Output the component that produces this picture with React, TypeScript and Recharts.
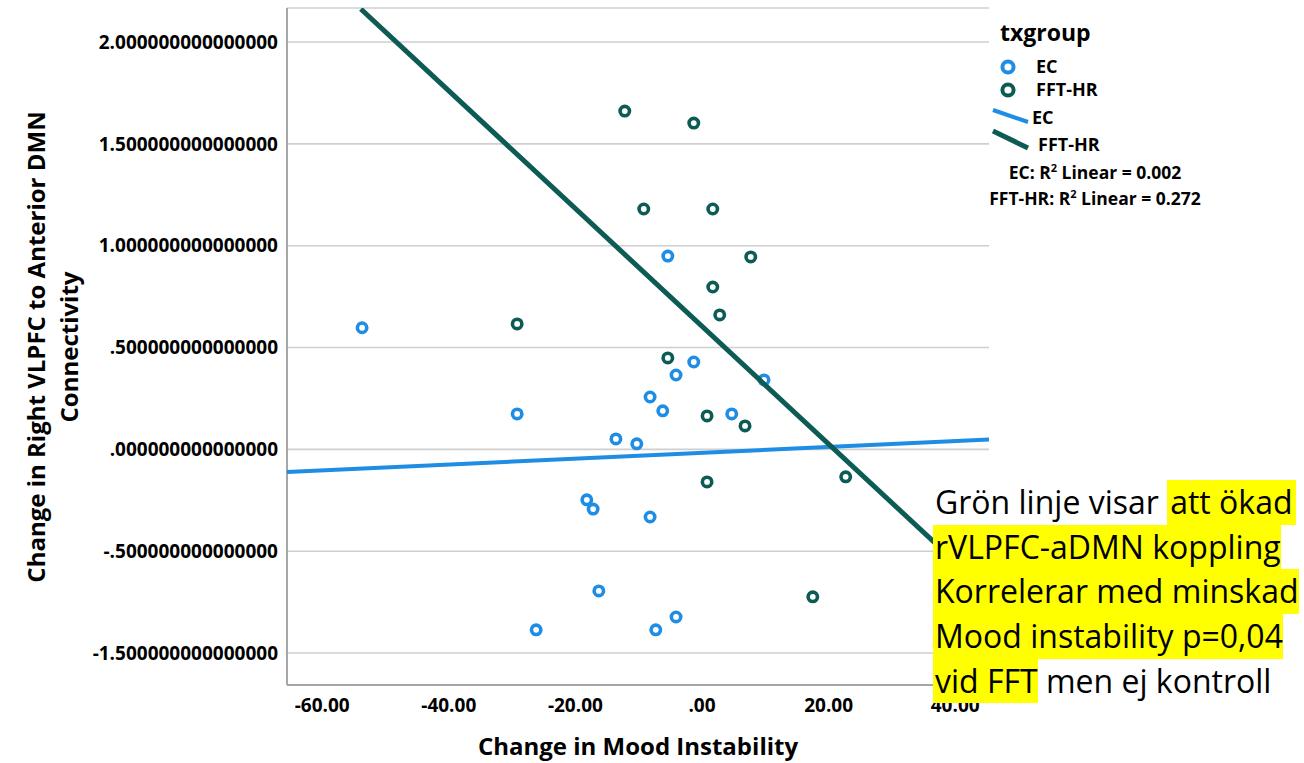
import { ScatterChart, Scatter, XAxis, YAxis, CartesianGrid } from 'recharts';

const EC_COLOR = '#1f8de3';
const FFT_COLOR = '#0d5b55';
const FONT = '"Open Sans", Arial, sans-serif';

// EC group: change in mood instability (x) vs change in connectivity (y)
const ecX = [-53.7, -29.2, -5.4, -13.6, -10.3, -1.3, -4.1, -8.2, -6.2, 4.7, -18.2, -17.2, -8.2, -16.3, -26.2, -7.3, -4.1, 9.8];
const ecY = [0.597, 0.174, 0.949, 0.051, 0.027, 0.429, 0.365, 0.257, 0.189, 0.174, -0.248, -0.293, -0.332, -0.695, -0.886, -0.886, -0.823, 0.341];

// FFT-HR group
const fftX = [-12.2, -1.3, -9.2, 1.7, 7.7, 1.7, 2.8, -29.2, -5.4, 0.8, 6.8, 0.8, 22.7, 17.5];
const fftY = [1.661, 1.602, 1.18, 1.18, 0.945, 0.797, 0.66, 0.616, 0.449, 0.164, 0.115, -0.16, -0.135, -0.724];

// linear fit lines, end points
const ecFitX = [-65.56, 45.34];
const ecFitY = [-0.111, 0.048];
const fftFitX = [-53.9, 45.34];
const fftFitY = [2.162, -0.706];

const xTicks = [-60, -40, -20, 0, 20, 40];
const xTickLabels = ['-60.00', '-40.00', '-20.00', '.00', '20.00', '40.00'];
const yTicks = [-1, -0.5, 0, 0.5, 1, 1.5, 2];
const yTickLabels = [
  '-1.500000000000000',
  '-.500000000000000',
  '.000000000000000',
  '.500000000000000',
  '1.000000000000000',
  '1.500000000000000',
  '2.000000000000000',
];

const zip = (xs: number[], ys: number[]) => xs.map((x, i) => ({ x, y: ys[i] }));

const ecData = zip(ecX, ecY);
const fftData = zip(fftX, fftY);
const ecFit = zip(ecFitX, ecFitY);
const fftFit = zip(fftFitX, fftFitY);

const ring = (color: string) => (p: any) => (
  <circle cx={p.cx} cy={p.cy} r={4.7} fill="#fff" stroke={color} strokeWidth={3.6} />
);

const noDot = () => <g />;

const tickStyle = { fill: '#000', fontSize: 19, fontWeight: 700, fontFamily: FONT };

function YTitle() {
  return (
    <g fontFamily={FONT} fontWeight={700} fontSize={24} fill="#000">
      <text transform="translate(45, 347) rotate(-90)" textAnchor="middle">
        Change in Right VLPFC to Anterior DMN
      </text>
      <text transform="translate(78, 347) rotate(-90)" textAnchor="middle">
        Connectivity
      </text>
    </g>
  );
}

function Legend() {
  const label = { fontSize: 18, fontWeight: 700 };
  return (
    <div style={{ position: 'absolute', left: 0, top: 0, fontFamily: FONT, color: '#000' }}>
      <div style={{ position: 'absolute', left: 1000, top: 16, fontSize: 23, fontWeight: 700, whiteSpace: 'nowrap' }}>txgroup</div>
      <svg width={1304} height={220} style={{ position: 'absolute', left: 0, top: 0 }}>
        <circle cx={1008} cy={67} r={5.6} fill="#fff" stroke={EC_COLOR} strokeWidth={4} />
        <circle cx={1008} cy={90} r={5.6} fill="#fff" stroke={FFT_COLOR} strokeWidth={4} />
        <line x1={993} y1={110} x2={1028} y2={122} stroke={EC_COLOR} strokeWidth={4} />
        <line x1={993} y1={131} x2={1028} y2={148} stroke={FFT_COLOR} strokeWidth={5} />
      </svg>
      <div style={{ ...label, position: 'absolute', left: 1036, top: 54, whiteSpace: 'nowrap' }}>EC</div>
      <div style={{ ...label, position: 'absolute', left: 1036, top: 77, whiteSpace: 'nowrap' }}>FFT-HR</div>
      <div style={{ ...label, position: 'absolute', left: 1032, top: 105, whiteSpace: 'nowrap' }}>EC</div>
      <div style={{ ...label, position: 'absolute', left: 1038, top: 132, whiteSpace: 'nowrap' }}>FFT-HR</div>
      <div style={{ position: 'absolute', left: 945, width: 300, top: 160, textAlign: 'center', fontSize: 17.5, fontWeight: 700, whiteSpace: 'nowrap' }}>
        EC: R<sup style={{ fontSize: 11 }}>2</sup> Linear = 0.002
      </div>
      <div style={{ position: 'absolute', left: 945, width: 300, top: 186, textAlign: 'center', fontSize: 17.5, fontWeight: 700, whiteSpace: 'nowrap' }}>
        FFT-HR: R<sup style={{ fontSize: 11 }}>2</sup> Linear = 0.272
      </div>
    </div>
  );
}

const hl = { background: '#ffff00' };

function Note() {
  const row = { height: 44.7, lineHeight: '44.7px', whiteSpace: 'nowrap' as const };
  return (
    <div
      style={{
        position: 'absolute',
        left: 933,
        top: 480,
        width: 371,
        background: '#fff',
        fontFamily: FONT,
        fontSize: 32,
        color: '#000',
      }}
    >
      <div style={row}>
        <span style={{ paddingLeft: 2 }}>Grön linje visar </span>
        <span style={{ ...hl, display: 'inline-block', paddingLeft: 3, paddingRight: 4 }}>att ökad</span>
      </div>
      <div style={row}>
        <span style={{ ...hl, display: 'inline-block', paddingLeft: 2 }}>rVLPFC-aDMN koppling</span>
      </div>
      <div style={row}>
        <span style={{ ...hl, display: 'inline-block', paddingLeft: 2 }}>Korrelerar med minskad</span>
      </div>
      <div style={row}>
        <span style={{ ...hl, display: 'inline-block', paddingLeft: 2 }}>Mood instability p=0,04</span>
      </div>
      <div style={row}>
        <span style={{ ...hl, display: 'inline-block', paddingLeft: 2 }}>vid FFT</span>
        <span> men ej kontroll</span>
      </div>
    </div>
  );
}

export default function App() {
  return (
    <div style={{ position: 'relative', width: 1304, height: 763, background: '#fff', overflow: 'hidden' }}>
      <style>{'body{margin:0;background:#fff}'}</style>
      <ScatterChart width={1304} height={763} margin={{ top: 8, right: 315, bottom: 0, left: 0 }}>
        <CartesianGrid vertical={false} stroke="#cfcfcf" strokeWidth={1.6} />
        <XAxis
          type="number"
          dataKey="x"
          domain={[-65.56, 45.34]}
          ticks={xTicks}
          tickFormatter={(v: number) => xTickLabels[xTicks.indexOf(v)] ?? ''}
          allowDataOverflow
          height={78}
          axisLine={{ stroke: '#a6a6a6', strokeWidth: 2 }}
          tickLine={false}
          tickMargin={8}
          tick={tickStyle}
          label={{
            value: 'Change in Mood Instability',
            position: 'insideBottom',
            offset: 8,
            style: { fill: '#000', fontSize: 24, fontWeight: 700, fontFamily: FONT },
          }}
        />
        <YAxis
          type="number"
          dataKey="y"
          domain={[-1.157, 2.167]}
          ticks={yTicks}
          tickFormatter={(v: number) => yTickLabels[yTicks.indexOf(v)] ?? ''}
          allowDataOverflow
          width={287}
          axisLine={{ stroke: '#a6a6a6', strokeWidth: 2 }}
          tickLine={false}
          tickMargin={3}
          tick={tickStyle}
          label={{ content: () => <YTitle /> }}
        />
        <Scatter name="EC" data={ecData} shape={ring(EC_COLOR)} isAnimationActive={false} />
        <Scatter name="FFT-HR" data={fftData} shape={ring(FFT_COLOR)} isAnimationActive={false} />
        <Scatter
          name="EC fit"
          data={ecFit}
          line={{ stroke: EC_COLOR, strokeWidth: 4 }}
          shape={noDot}
          legendType="none"
          isAnimationActive={false}
        />
        <Scatter
          name="FFT-HR fit"
          data={fftFit}
          line={{ stroke: FFT_COLOR, strokeWidth: 5 }}
          shape={noDot}
          legendType="none"
          isAnimationActive={false}
        />
      </ScatterChart>
      <Legend />
      <Note />
    </div>
  );
}
